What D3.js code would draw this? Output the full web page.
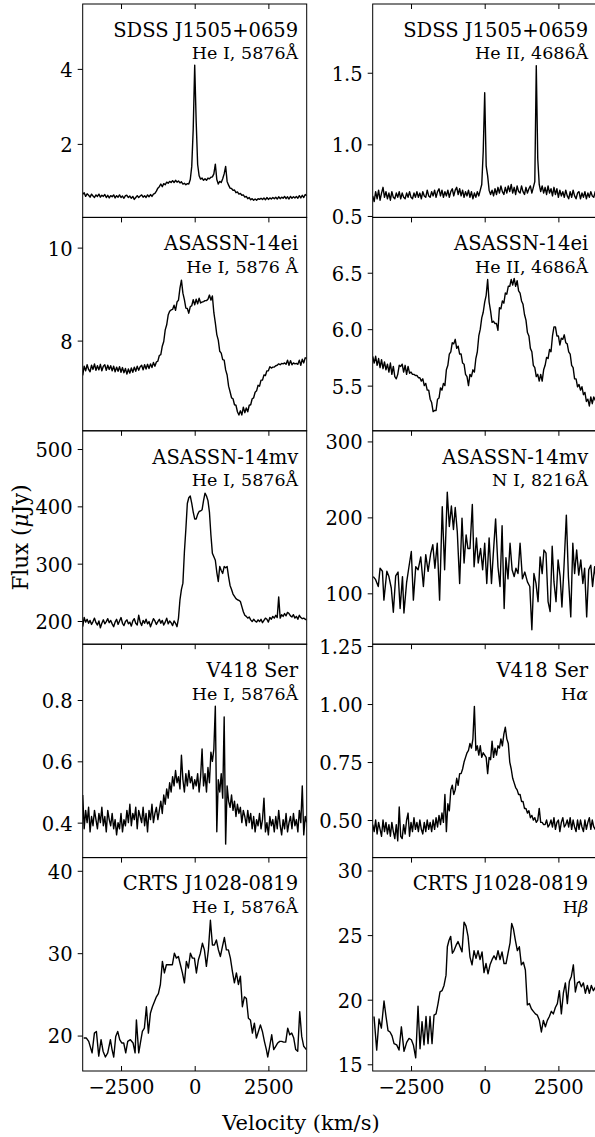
<!DOCTYPE html>
<html>
<head>
<meta charset="utf-8">
<script src="https://cdnjs.cloudflare.com/ajax/libs/d3/7.8.5/d3.min.js"></script>
<style>
body { margin: 0; background: #fff; }
svg { display: block; }
</style>
</head>
<body>
<script>

// velocity sampling of the evenly gridded spectra (km/s)
var gridVel = d3.range(-3800, 3801, 50);
var velRange = [-3800, 3800];

var xTicks = [-2500, 0, 2500];
var xTickLabels = ["\u22122500", "0", "2500"];

// SDSS J1505+0659, He I 5876
var sdssHeIFlux = [
  0.66,0.70,0.60,0.67,0.63,0.58,0.66,0.61,0.57,0.64, // -3800
  0.60,0.66,0.58,0.63,0.60,0.65,0.57,0.63,0.56,0.62, // -3300
  0.59,0.64,0.56,0.62,0.58,0.64,0.57,0.61,0.55,0.62, // -2800
  0.63,0.57,0.61,0.55,0.60,0.52,0.57,0.62,0.57,0.61, // -2300
  0.64,0.58,0.62,0.57,0.64,0.59,0.65,0.60,0.66,0.68, // -1800
  0.74,0.82,0.86,0.93,0.86,0.94,0.91,0.98,0.95,1.00, // -1300
  0.97,1.02,0.97,1.03,0.98,1.01,0.96,0.99,0.93,0.95, // -800
  0.91,0.94,0.93,1.05,1.40,2.40,4.10,2.60,1.45,1.15, // -300
  1.06,1.09,1.03,1.07,1.03,1.09,1.07,1.11,1.12,1.20, // 200
  1.46,1.05,0.93,1.00,0.97,1.07,1.20,1.40,1.00,0.90, // 700
  0.82,0.81,0.76,0.77,0.70,0.72,0.66,0.68,0.63,0.64, // 1200
  0.58,0.60,0.54,0.57,0.51,0.54,0.50,0.53,0.50,0.54, // 1700
  0.52,0.55,0.52,0.56,0.51,0.57,0.52,0.56,0.53,0.57, // 2200
  0.54,0.58,0.53,0.59,0.54,0.58,0.55,0.60,0.54,0.59, // 2700
  0.53,0.60,0.55,0.59,0.56,0.60,0.55,0.62,0.56,0.63, // 3200
  0.57,0.65,0.62                                     // 3700
];

// SDSS J1505+0659, He II 4686
var sdssHeIIFlux = [
  0.64,0.60,0.67,0.62,0.68,0.61,0.66,0.70,0.63,0.67,
  0.62,0.66,0.61,0.67,0.63,0.62,0.66,0.63,0.67,0.62,
  0.66,0.63,0.62,0.66,0.63,0.67,0.63,0.62,0.66,0.63,
  0.67,0.63,0.66,0.62,0.67,0.64,0.63,0.68,0.64,0.63,
  0.67,0.64,0.68,0.63,0.67,0.69,0.64,0.68,0.63,0.67,
  0.64,0.68,0.63,0.67,0.69,0.64,0.68,0.70,0.65,0.69,
  0.64,0.68,0.63,0.67,0.64,0.68,0.63,0.67,0.62,0.66,
  0.63,0.67,0.64,0.68,0.72,0.95,1.36,0.85,0.78,0.68,
  0.65,0.68,0.64,0.69,0.65,0.70,0.66,0.71,0.67,0.65,
  0.70,0.66,0.71,0.67,0.72,0.66,0.70,0.65,0.71,0.67,
  0.66,0.71,0.67,0.65,0.70,0.66,0.69,0.71,0.66,0.70,
  0.74,1.55,0.90,0.72,0.67,0.71,0.66,0.70,0.65,0.71,
  0.66,0.69,0.64,0.70,0.65,0.69,0.63,0.68,0.64,0.67,
  0.63,0.68,0.64,0.62,0.67,0.63,0.68,0.64,0.62,0.66,
  0.67,0.62,0.66,0.63,0.67,0.62,0.66,0.63,0.67,0.64,
  0.63,0.67,0.65
];

// ASASSN-14ei, He I 5876
var eiHeIFlux = [
  7.25,7.45,7.35,7.48,7.38,7.33,7.47,7.38,7.50,7.36,
  7.46,7.37,7.49,7.35,7.45,7.48,7.36,7.47,7.38,7.46,
  7.35,7.45,7.33,7.43,7.34,7.44,7.32,7.42,7.31,7.40,
  7.28,7.39,7.30,7.41,7.32,7.43,7.34,7.45,7.36,7.44,
  7.47,7.37,7.48,7.39,7.49,7.40,7.50,7.42,7.53,7.45,
  7.54,7.56,7.68,7.70,7.88,7.98,8.23,8.34,8.55,8.63,
  8.66,8.67,8.76,8.65,8.83,8.87,9.13,9.30,9.02,8.88,
  8.70,8.69,8.59,8.73,8.75,8.88,8.77,8.89,8.79,8.91,
  8.81,8.83,8.84,8.86,8.86,8.89,8.98,8.87,8.96,8.60,
  8.38,8.13,8.01,7.77,7.73,7.59,7.58,7.37,7.26,7.02,
  6.90,6.77,6.75,6.62,6.61,6.47,6.40,6.49,6.40,6.57,
  6.45,6.55,6.47,6.61,6.62,6.75,6.77,6.89,6.92,7.04,
  7.02,7.15,7.15,7.26,7.25,7.35,7.35,7.44,7.41,7.43,
  7.43,7.46,7.47,7.50,7.48,7.51,7.50,7.52,7.49,7.58,
  7.47,7.57,7.48,7.52,7.50,7.51,7.49,7.58,7.47,7.60,
  7.52,7.63,7.62
];

// ASASSN-14ei, He II 4686
var eiHeIIFlux = [
  5.76,5.70,5.76,5.68,5.74,5.66,5.73,5.65,5.71,5.64,
  5.69,5.62,5.70,5.60,5.67,5.58,5.56,5.60,5.68,5.67,
  5.69,5.62,5.68,5.60,5.67,5.61,5.62,5.60,5.60,5.59,
  5.59,5.57,5.57,5.54,5.56,5.50,5.52,5.46,5.46,5.38,
  5.35,5.27,5.28,5.28,5.38,5.39,5.48,5.46,5.52,5.50,
  5.64,5.68,5.78,5.80,5.88,5.87,5.91,5.83,5.85,5.78,
  5.78,5.70,5.69,5.60,5.58,5.50,5.60,5.58,5.64,5.62,
  5.74,5.80,5.94,6.00,6.10,6.15,6.24,6.30,6.44,6.24,
  6.16,6.06,6.07,6.05,6.05,5.99,6.19,6.18,6.25,6.23,
  6.32,6.31,6.38,6.38,6.44,6.39,6.45,6.38,6.43,6.34,
  6.32,6.25,6.22,6.13,6.08,5.97,5.94,5.83,5.80,5.68,
  5.66,5.58,5.60,5.54,5.60,5.54,5.64,5.68,5.75,5.74,
  5.82,5.80,5.94,6.02,6.02,5.94,5.94,5.86,5.92,5.91,
  5.95,5.88,5.87,5.80,5.78,5.68,5.66,5.56,5.56,5.49,
  5.51,5.46,5.49,5.42,5.44,5.36,5.38,5.32,5.40,5.34,
  5.40,5.37,5.39
];

// ASASSN-14mv, He I 5876
var mvHeIFlux = [
  190,206,198,203,196,201,194,199,205,197,
  193,200,188,196,202,195,199,204,197,201,
  195,190,198,203,194,200,206,196,192,199,
  202,195,198,191,200,204,196,193,210,198,
  192,201,196,203,195,199,190,197,204,200,
  194,199,203,196,201,193,198,205,195,200,
  197,192,200,196,190,205,237,255,266,320,
  360,405,415,418,405,390,378,378,386,391,
  392,394,410,423,418,410,390,350,318,312,
  306,285,269,295,288,283,295,293,295,277,
  262,255,247,243,239,237,236,234,225,216,
  210,208,205,207,202,199,203,200,198,202,
  199,203,197,201,205,203,198,206,203,208,
  205,210,206,242,205,211,208,213,209,215,
  213,209,207,211,205,208,203,210,206,204,
  205,203,202
];

// ASASSN-14mv, N I 8216 (read point by point)
var mvNIVel = [
  -3780,-3700,-3610,-3550,-3470,-3420,-3320,-3250,-3170,-3100,
  -3020,-2940,-2870,-2790,-2740,-2650,-2570,-2490,-2420,-2340,
  -2260,-2170,-2080,-2000,-1920,-1830,-1760,-1690,-1610,-1530,
  -1440,-1360,-1270,-1200,-1130,-1060,-1000,-930,-850,-770,
  -700,-630,-570,-500,-420,-360,-280,-220,-140,-70,
  0,70,150,230,290,370,450,520,590,660,
  720,790,860,930,1000,1060,1130,1200,1280,1360,
  1450,1530,1600,1670,1740,1810,1880,1950,2010,2080,
  2150,2220,2290,2350,2420,2490,2560,2620,2690,2770,
  2840,2920,2990,3050,3120,3190,3260,3330,3390,3460,
  3530,3600,3660,3730,3770
];
var mvNIFlux = [
  122,118,109,133,129,91,129,122,107,75,
  123,128,80,122,74,114,135,155,91,135,
  131,148,109,151,129,153,164,133,166,91,
  214,131,233,188,215,184,213,181,113,199,
  140,177,159,159,217,135,173,140,159,131,
  166,113,173,113,151,198,135,109,189,80,
  147,119,166,131,122,133,126,166,119,128,
  115,109,52,126,113,89,148,126,157,153,
  89,76,162,115,89,144,122,82,135,203,
  122,69,166,126,157,124,144,113,133,69,
  131,137,109,135,122
];

// V418 Ser, He I 5876
var v418HeIFlux = [
  0.49,0.38,0.44,0.40,0.45,0.37,0.42,0.39,0.44,0.41,
  0.38,0.43,0.40,0.45,0.39,0.42,0.37,0.44,0.41,0.39,
  0.43,0.38,0.41,0.36,0.40,0.38,0.43,0.37,0.41,0.39,
  0.44,0.40,0.46,0.39,0.43,0.41,0.45,0.38,0.44,0.42,
  0.40,0.45,0.39,0.43,0.37,0.44,0.41,0.46,0.40,0.43,
  0.45,0.41,0.44,0.47,0.43,0.49,0.46,0.51,0.48,0.53,
  0.50,0.55,0.52,0.57,0.53,0.55,0.51,0.62,0.54,0.50,
  0.56,0.52,0.57,0.53,0.55,0.51,0.54,0.52,0.56,0.50,
  0.55,0.64,0.52,0.56,0.50,0.58,0.53,0.63,0.60,0.64,
  0.78,0.37,0.54,0.50,0.56,0.48,0.745,0.33,0.52,0.47,
  0.45,0.49,0.44,0.47,0.42,0.46,0.43,0.45,0.40,0.44,
  0.42,0.39,0.44,0.40,0.43,0.38,0.42,0.37,0.41,0.39,
  0.43,0.38,0.41,0.48,0.37,0.40,0.36,0.42,0.39,0.41,
  0.37,0.42,0.38,0.44,0.39,0.36,0.41,0.38,0.43,0.37,
  0.40,0.42,0.38,0.43,0.39,0.41,0.37,0.44,0.40,0.52,
  0.36,0.42,0.40
];

// V418 Ser, H alpha
var v418HaFlux = [
  0.48,0.45,0.50,0.44,0.49,0.46,0.43,0.50,0.45,0.49,
  0.44,0.48,0.43,0.49,0.45,0.42,0.48,0.41,0.556,0.43,
  0.42,0.48,0.44,0.50,0.53,0.43,0.49,0.45,0.51,0.46,
  0.49,0.45,0.50,0.46,0.44,0.49,0.45,0.50,0.46,0.49,
  0.45,0.50,0.46,0.51,0.47,0.52,0.48,0.53,0.49,0.61,
  0.45,0.57,0.54,0.63,0.65,0.61,0.63,0.68,0.65,0.70,
  0.70,0.72,0.75,0.77,0.79,0.80,0.83,0.81,0.85,0.99,
  0.80,0.82,0.78,0.82,0.77,0.79,0.78,0.77,0.70,0.77,
  0.76,0.84,0.77,0.81,0.78,0.82,0.81,0.85,0.82,0.87,
  0.90,0.85,0.83,0.75,0.72,0.68,0.66,0.64,0.63,0.61,
  0.61,0.58,0.58,0.55,0.55,0.53,0.54,0.51,0.52,0.50,
  0.51,0.49,0.50,0.55,0.49,0.49,0.48,0.48,0.50,0.47,
  0.48,0.50,0.47,0.51,0.46,0.49,0.50,0.45,0.49,0.51,
  0.47,0.48,0.50,0.47,0.51,0.46,0.50,0.47,0.45,0.50,
  0.46,0.50,0.47,0.45,0.50,0.46,0.49,0.51,0.46,0.50,
  0.47,0.46,0.50
];

// CRTS J1028-0819, He I 5876 (read point by point)
var crtsHeIVel = [
  -3765,-3675,-3596,-3482,-3403,-3335,-3256,-3177,-3109,-3030,
  -2951,-2860,-2804,-2747,-2679,-2612,-2544,-2476,-2408,-2340,
  -2272,-2182,-2091,-2023,-1978,-1899,-1842,-1775,-1707,-1639,
  -1571,-1503,-1435,-1367,-1300,-1232,-1164,-1096,-1028,-960,
  -892,-824,-757,-689,-621,-553,-485,-417,-349,-282,
  -214,-146,-78,-10,58,126,193,261,329,397,
  465,533,601,668,736,804,872,940,1008,1075,
  1143,1211,1279,1347,1415,1483,1550,1618,1686,1754,
  1822,1890,1958,2025,2093,2161,2229,2297,2365,2432,
  2478,2545,2613,2681,2749,2817,2885,2952,3020,3088,
  3156,3224,3292,3360,3427,3495,3563,3631,3699,3789
];
var crtsHeIFlux = [
  19.7,19.7,19.3,17.9,20.3,20.5,17.5,19.5,18.1,17.4,
  17.9,19.5,18.3,17.4,19.9,20.5,19.5,19.1,19.1,17.9,
  19.3,19.5,19.1,17.9,21.9,17.9,19.1,20.5,20.9,23.5,
  20.3,22.7,23.5,24.1,24.7,25.1,26.2,29.0,27.6,28.6,
  28.6,28.6,28.6,30.0,29.4,29.6,28.6,27.6,26.4,29.0,
  28.2,30.0,29.4,29.4,27.6,29.2,30.0,31.2,30.4,28.4,
  30.4,34.0,31.0,31.0,31.6,30.4,29.6,30.8,31.9,30.4,
  30.4,29.4,27.8,26.4,27.6,26.2,27.2,23.5,24.7,24.5,
  22.1,21.9,20.3,21.5,19.7,20.5,21.3,20.5,19.3,18.3,
  17.4,18.7,20.1,18.3,18.7,19.1,19.3,19.3,19.2,19.2,
  20.9,20.1,20.3,19.7,18.3,18.1,22.9,19.9,18.7,18.3
];

// CRTS J1028-0819, H beta (read point by point)
var crtsHbVel = [
  -3755,-3664,-3585,-3506,-3416,-3348,-3280,-3212,-3144,-3076,
  -2986,-2907,-2827,-2737,-2647,-2567,-2488,-2420,-2341,-2262,
  -2194,-2126,-2059,-1991,-1923,-1855,-1787,-1719,-1651,-1583,
  -1516,-1448,-1380,-1312,-1267,-1210,-1154,-1097,-1041,-973,
  -905,-837,-769,-701,-633,-565,-498,-430,-362,-294,
  -226,-158,-90,-23,45,113,181,249,317,385,
  452,520,588,656,724,792,860,916,973,1041,
  1108,1176,1244,1312,1380,1447,1515,1583,1651,1719,
  1787,1855,1923,1991,2059,2126,2194,2262,2330,2398,
  2465,2533,2601,2669,2737,2804,2872,2940,3008,3076,
  3144,3212,3280,3348,3415,3483,3551,3619,3687,3766
];
var crtsHbFlux = [
  18.7,16.1,18.5,17.8,19.9,18.7,17.6,17.5,17.2,16.6,
  16.5,16.1,17.9,16.0,16.7,17.0,16.9,16.5,15.5,19.5,
  16.2,18.3,16.5,18.7,16.6,18.7,16.6,18.8,18.9,19.7,
  20.6,20.7,21.1,21.9,24.1,24.6,24.9,23.6,23.8,24.2,
  24.5,24.1,23.7,26.0,25.7,24.9,23.3,22.7,23.8,23.2,
  23.8,23.1,23.7,22.1,22.8,22.0,22.7,23.1,23.4,23.1,
  23.8,23.1,23.7,22.8,22.8,23.6,24.4,25.9,25.5,24.6,
  23.8,24.1,22.7,22.9,22.3,19.6,19.7,19.3,19.1,18.9,
  18.8,18.4,17.5,18.4,17.9,18.4,18.7,19.1,18.9,19.4,
  19.7,20.7,18.9,20.5,21.3,19.7,21.4,21.8,22.7,20.6,
  21.3,21.4,21.0,21.3,20.5,21.1,20.5,21.1,20.7,21.0
];

// panel texts, left column then right column, top to bottom
var objectNames = ["SDSS J1505+0659", "SDSS J1505+0659", "ASASSN-14ei", "ASASSN-14ei",
  "ASASSN-14mv", "ASASSN-14mv", "V418 Ser", "V418 Ser", "CRTS J1028-0819", "CRTS J1028-0819"];
var lineNames = ["He I, 5876\u00c5", "He II, 4686\u00c5", "He I, 5876 \u00c5", "He II, 4686\u00c5",
  "He I, 5876\u00c5", "N I, 8216\u00c5", "He I, 5876\u00c5", "H\u03b1", "He I, 5876\u00c5", "H\u03b2"];

// y limits and ticks of each panel
var yLimits = [[0.04, 5.73], [0.49, 1.98], [6.06, 10.65], [5.10, 6.99], [159.5, 531.8],
  [33, 314], [0.286, 0.982], [0.338, 1.258], [15.7, 41.6], [14.48, 31.0]];
var yTicks = [[2, 4], [0.5, 1.0, 1.5], [8, 10], [5.5, 6.0, 6.5], [200, 300, 400, 500],
  [100, 200, 300], [0.4, 0.6, 0.8], [0.5, 0.75, 1.0, 1.25], [20, 30, 40], [15, 20, 25, 30]];
var yTickLabels = [["2", "4"], ["0.5", "1.0", "1.5"], ["8", "10"], ["5.5", "6.0", "6.5"],
  ["200", "300", "400", "500"], ["100", "200", "300"], ["0.4", "0.6", "0.8"],
  ["0.50", "0.75", "1.00", "1.25"], ["20", "30", "40"], ["15", "20", "25", "30"]];

var spectraVel = [gridVel, gridVel, gridVel, gridVel, gridVel, mvNIVel, gridVel, gridVel, crtsHeIVel, crtsHbVel];
var spectraFlux = [sdssHeIFlux, sdssHeIIFlux, eiHeIFlux, eiHeIIFlux, mvHeIFlux, mvNIFlux,
  v418HeIFlux, v418HaFlux, crtsHeIFlux, crtsHbFlux];


// layout
var w = 595;
var h = 1137;
var colLeft = [82.7, 372.7];
var colWidth = 224;
var rowTop = 4;
var rowHeight = 213.4;
var nRows = 5;
var serif = "'DejaVu Serif', serif";
var tickFont = 19.5;

var svg = d3.select("body")
            .append("svg")
            .attr("width", w)
            .attr("height", h)
            .attr("font-family", serif);

svg.append("rect")
   .attr("width", w)
   .attr("height", h)
   .attr("fill", "#fff");

var defs = svg.append("defs");

// put greek letters in italics, like the tex labels
function addLabel(sel, str) {
    str.split(/([\u03b1-\u03c9\u00b5])/).forEach(function(part) {
        if (part == "") return;
        var t = sel.append("tspan").text(part);
        if (/[\u03b1-\u03c9\u00b5]/.test(part)) t.attr("font-style", "italic");
    });
}

objectNames.forEach(function(name, i) {

    var row = Math.floor(i / 2);
    var col = i % 2;
    var x0 = colLeft[col];
    var y0 = rowTop + row * rowHeight;

    var xScale = d3.scaleLinear()
                   .domain(velRange)
                   .range([x0, x0 + colWidth]);

    var yScale = d3.scaleLinear()
                   .domain(yLimits[i])
                   .range([y0 + rowHeight, y0]);

    defs.append("clipPath")
        .attr("id", "clip" + i)
        .append("rect")
        .attr("x", x0)
        .attr("y", y0)
        .attr("width", colWidth)
        .attr("height", rowHeight);

    var line = d3.line()
                 .x(function(d) { return xScale(d[0]); })
                 .y(function(d) { return yScale(d[1]); });

    svg.append("path")
       .datum(d3.zip(spectraVel[i], spectraFlux[i]))
       .attr("clip-path", "url(#clip" + i + ")")
       .attr("fill", "none")
       .attr("stroke", "#000")
       .attr("stroke-width", 1.4)
       .attr("stroke-linejoin", "round")
       .attr("d", line);

    // frame
    svg.append("rect")
       .attr("x", x0)
       .attr("y", y0)
       .attr("width", colWidth)
       .attr("height", rowHeight)
       .attr("fill", "none")
       .attr("stroke", "#000")
       .attr("stroke-width", 1);

    // y axis, ticks pointing out
    var yAxis = d3.axisLeft(yScale)
                  .tickValues(yTicks[i])
                  .tickFormat(function(d, k) { return yTickLabels[i][k]; })
                  .tickSize(5)
                  .tickPadding(5);

    var gy = svg.append("g")
                .attr("transform", "translate(" + x0 + ",0)")
                .call(yAxis);
    gy.select(".domain").remove();
    gy.attr("font-family", serif).attr("font-size", tickFont);
    gy.selectAll("line").attr("stroke", "#000");
    gy.selectAll("text")
      .attr("dy", "0.38em")
      .attr("fill", "#000");

    // x ticks pointing in at the top of every panel
    var gt = svg.append("g")
                .attr("transform", "translate(0," + y0 + ")")
                .call(d3.axisTop(xScale).tickValues(xTicks).tickSize(-5).tickFormat(""));
    gt.select(".domain").remove();
    gt.selectAll("line").attr("stroke", "#000");

    // bottom row carries the tick labels
    if (row == nRows - 1) {
        var gb = svg.append("g")
                    .attr("transform", "translate(0," + (y0 + rowHeight) + ")")
                    .call(d3.axisBottom(xScale)
                            .tickValues(xTicks)
                            .tickSize(-5)
                            .tickFormat(function(d, k) { return xTickLabels[k]; }));
        gb.select(".domain").remove();
        gb.attr("font-family", serif).attr("font-size", tickFont);
        gb.selectAll("line").attr("stroke", "#000");
        gb.selectAll("text")
          .attr("y", 23)
          .attr("dy", null)
          .attr("fill", "#000");
    }

    // object name and line
    var tx = x0 + colWidth - 8.5;
    svg.append("text")
       .attr("x", tx)
       .attr("y", y0 + 32.7)
       .attr("text-anchor", "end")
       .attr("font-size", 19.5)
       .text(name);

    var sub = svg.append("text")
                 .attr("x", tx)
                 .attr("y", y0 + 55.3)
                 .attr("text-anchor", "end")
                 .attr("font-size", 17.5);
    addLabel(sub, lineNames[i]);
});

// shared axis labels
var yLab = svg.append("text")
              .attr("transform", "translate(28," + (rowTop + nRows * rowHeight / 2) + ") rotate(-90)")
              .attr("text-anchor", "middle")
              .attr("font-size", 21.5);
addLabel(yLab, "Flux (\u03bcJy)");

svg.append("text")
   .attr("x", 301)
   .attr("y", 1130)
   .attr("text-anchor", "middle")
   .attr("font-size", 21)
   .text("Velocity (km/s)");

</script>
</body>
</html>
